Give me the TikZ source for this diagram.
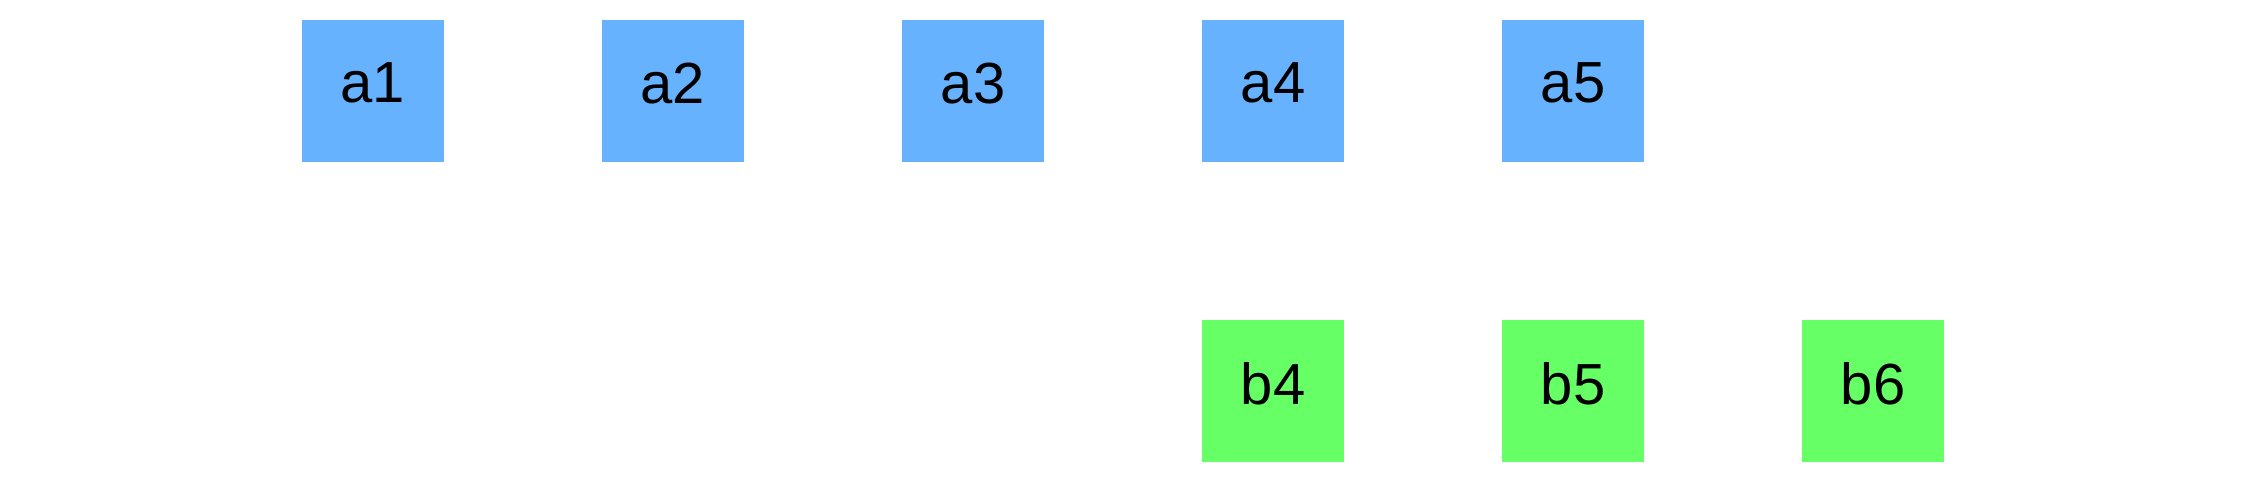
\documentclass[tikz,border=0pt]{standalone}
\usepackage{fontspec}
\setmainfont{Liberation Sans}
\definecolor{boxblue}{HTML}{66B2FF}
\definecolor{boxgreen}{HTML}{66FF66}
\tikzset{
  cell/.style={rectangle, minimum size=142pt, inner sep=0pt, draw=none,
    font=\fontsize{58}{60}\selectfont, text depth=16pt},
  ablock/.style={cell, fill=boxblue},
  bblock/.style={cell, fill=boxgreen}
}
\begin{document}
\begin{tikzpicture}[x=1pt,y=1pt]
\useasboundingbox (0,0) rectangle (2243,483);
\node[ablock] (a1) at (373,392) {a1};
\node[ablock] (a2) at (673,392) {a2};
\node[ablock] (a3) at (973,392) {a3};
\node[ablock] (a4) at (1273,392) {a4};
\node[ablock] (a5) at (1573,392) {a5};
\node[bblock] (b4) at (1273,92) {b4};
\node[bblock] (b5) at (1573,92) {b5};
\node[bblock] (b6) at (1873,92) {b6};
\end{tikzpicture}
\end{document}
